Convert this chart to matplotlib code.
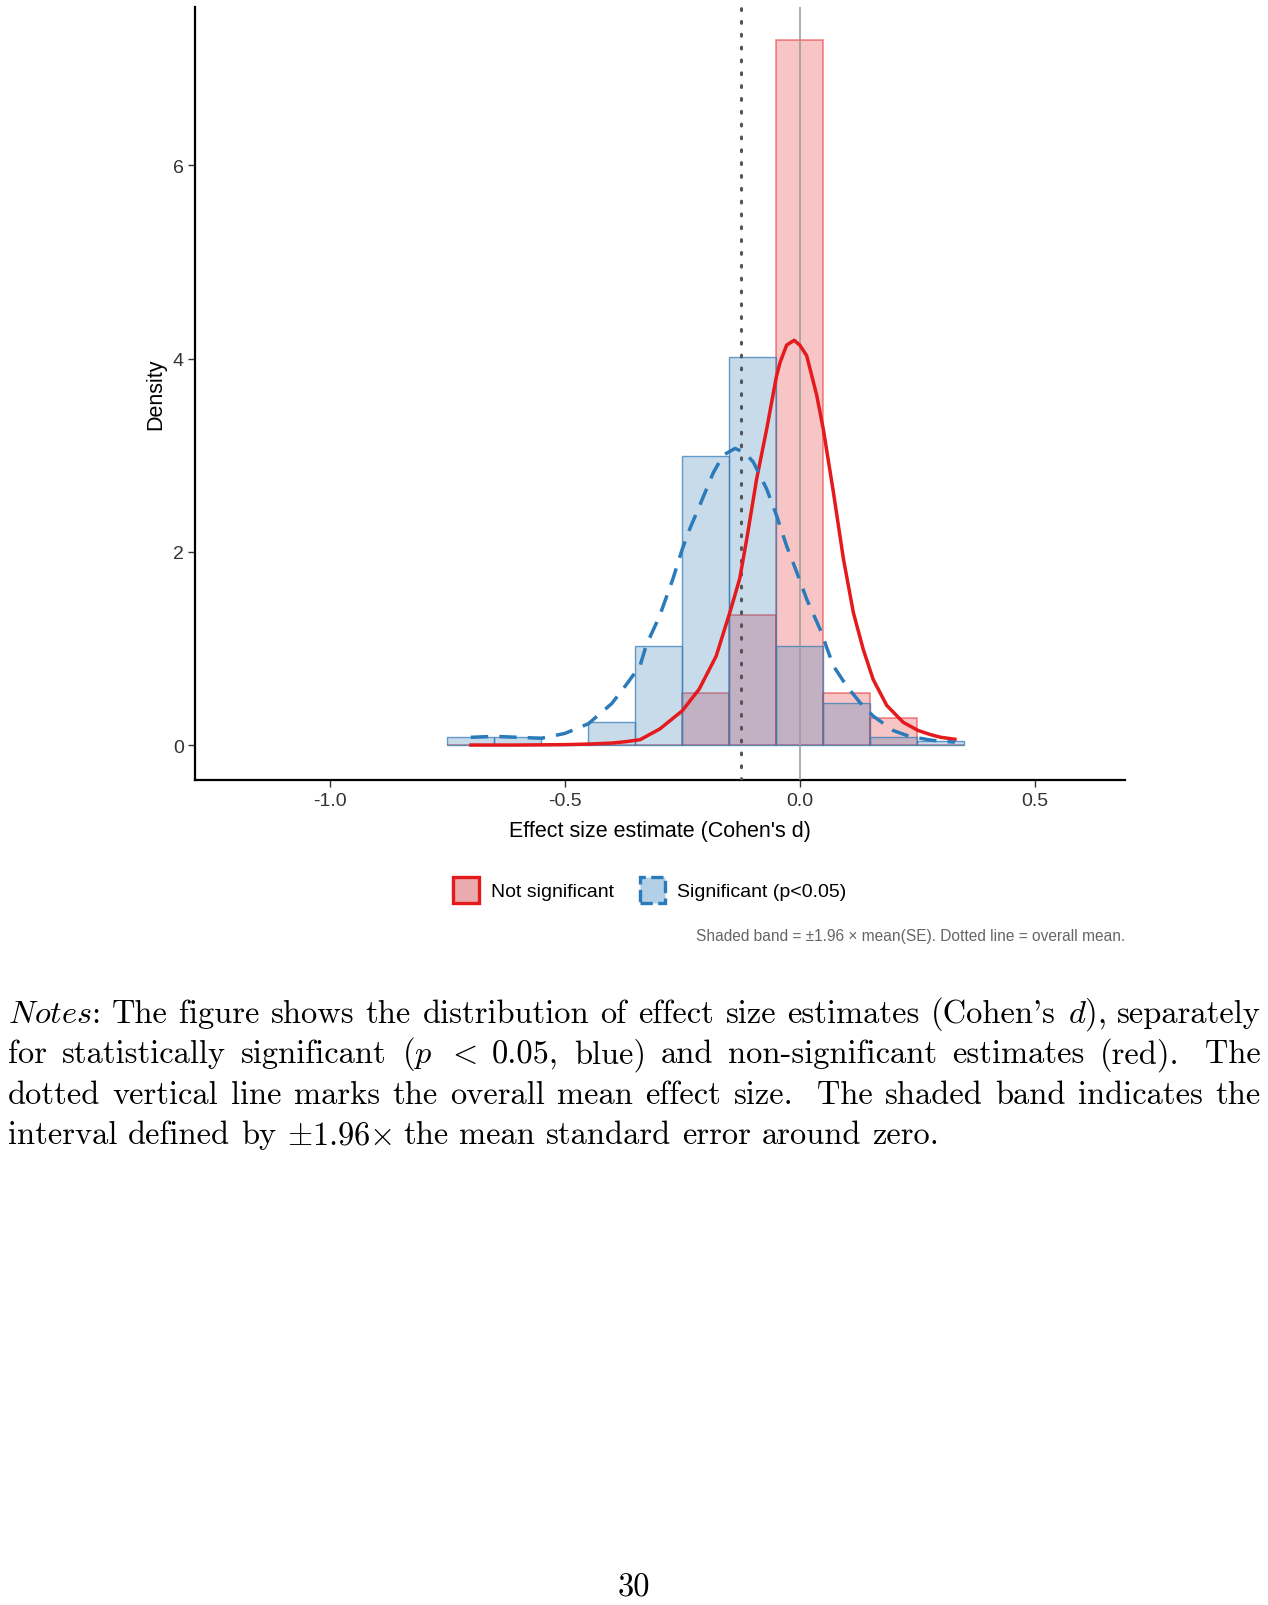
import numpy as np
import matplotlib.pyplot as plt
from matplotlib.patches import Patch

plt.rcParams['mathtext.fontset'] = 'cm'
plt.rcParams['axes.unicode_minus'] = False

# -----------------------
#      Data
# -----------------------
bin_edges = [-0.75, -0.65, -0.55, -0.45, -0.35, -0.25, -0.15, -0.05, 0.05, 0.15, 0.25, 0.35]
sig_density = [0.08, 0.08, 0.0, 0.24, 1.03, 2.99, 4.02, 1.03, 0.43, 0.085, 0.04]
nonsig_density = [0.0, 0.0, 0.0, 0.0, 0.0, 0.54, 1.35, 7.30, 0.54, 0.275, 0.0]

# kernel density curves, sampled by eye
nonsig_kde_x = [-0.70, -0.60, -0.50, -0.45, -0.40, -0.37, -0.34, -0.298, -0.25, -0.214, -0.178,
                -0.149, -0.128, -0.113, -0.092, -0.0705, -0.05, -0.042, -0.028, -0.012,
                0.0, 0.0147, 0.036, 0.050, 0.0714, 0.0927, 0.114, 0.135, 0.156, 0.185,
                0.220, 0.252, 0.28, 0.30, 0.33]
nonsig_kde_y = [0.0, 0.0, 0.004, 0.01, 0.02, 0.035, 0.055, 0.166, 0.355, 0.58, 0.92,
                1.37, 1.72, 2.13, 2.75, 3.27, 3.81, 3.96, 4.14, 4.19,
                4.14, 4.03, 3.62, 3.27, 2.62, 1.93, 1.37, 0.99, 0.68, 0.41,
                0.235, 0.15, 0.105, 0.08, 0.06]

sig_kde_x = [-0.70, -0.65, -0.60, -0.55, -0.50, -0.45, -0.40, -0.37, -0.34, -0.327, -0.298,
             -0.270, -0.25, -0.234, -0.213, -0.184, -0.163, -0.138, -0.118, -0.099, -0.0705,
             -0.049, -0.028, -0.0066, 0.0147, 0.043, 0.0714, 0.0998, 0.128, 0.156, 0.199,
             0.227, 0.25, 0.28, 0.30, 0.33]
sig_kde_y = [0.08, 0.09, 0.08, 0.07, 0.12, 0.22, 0.43, 0.62, 0.82, 1.03, 1.34,
             1.72, 2.03, 2.24, 2.48, 2.82, 3.00, 3.07, 3.03, 2.93, 2.65,
             2.37, 2.06, 1.79, 1.51, 1.20, 0.82, 0.61, 0.44, 0.30, 0.15,
             0.10, 0.075, 0.05, 0.04, 0.03]

overall_mean = -0.126

x_ticks = [-1.0, -0.5, 0.0, 0.5]
x_tick_labels = ["-1.0", "-0.5", "0.0", "0.5"]
y_ticks = [0, 2, 4, 6]

notes_lines = [
    [r"$\mathit{Notes}$:", "The", "figure", "shows", "the", "distribution", "of", "effect", "size",
     "estimates", "(Cohen's", r"$d$),", "separately"],
    ["for", "statistically", "significant", r"($p$", r"$<$", "0.05,", "blue)", "and",
     "non-significant", "estimates", "(red).", " The"],
    ["dotted", "vertical", "line", "marks", "the", "overall", "mean", "effect", "size.", " The",
     "shaded", "band", "indicates", "the"],
    ["interval", "defined", "by", r"$\pm$1.96$\times$", "the", "mean", "standard", "error",
     "around", "zero."],
]

# -----------------------
#      Figure
# -----------------------
W, H = 1268, 1606
fig = plt.figure(figsize=(W / 100, H / 100), dpi=100)
ax = fig.add_axes([195 / W, 1 - 781 / H, (1125 - 195) / W, (781 - 8) / H])

red = '#E41A1C'
blue = '#2B7BBA'
lefts = np.array(bin_edges[:-1])
widths = np.diff(bin_edges)

ax.bar(lefts, nonsig_density, width=widths, align='edge',
       facecolor=(0.894, 0.102, 0.110, 0.25), edgecolor=(0.894, 0.102, 0.110, 0.5), linewidth=1.2)
ax.bar(lefts, sig_density, width=widths, align='edge',
       facecolor=(0.216, 0.494, 0.722, 0.28), edgecolor=(0.216, 0.494, 0.722, 0.75), linewidth=1.0)

ax.axvline(0, color='#999999', lw=1.1, zorder=3)
ax.axvline(overall_mean, color='#555555', lw=2.2, linestyle=(0, (0.6, 3.6)),
           dash_capstyle='round', zorder=3)

ax.plot(nonsig_kde_x, nonsig_kde_y, color=red, lw=2.5, zorder=4, solid_joinstyle='round')
ax.plot(sig_kde_x, sig_kde_y, color=blue, lw=2.5, linestyle=(0, (5, 3.2)), zorder=4)

ax.set_xlim(-1.287, 0.692)
ax.set_ylim(-0.362, 7.64)
ax.set_xticks(x_ticks)
ax.set_xticklabels(x_tick_labels)
ax.set_yticks(y_ticks)

for s in ['top', 'right']:
    ax.spines[s].set_visible(False)
for s in ['left', 'bottom']:
    ax.spines[s].set_linewidth(1.6)
    ax.spines[s].set_color('black')
ax.tick_params(axis='both', length=5, width=1.0, color='#333333',
               labelsize=14, labelcolor='#333333', labelfontfamily='Liberation Sans')
ax.tick_params(axis='x', pad=4)
ax.tick_params(axis='y', pad=3)

ax.set_xlabel("Effect size estimate (Cohen's d)", fontsize=15.5, family='Liberation Sans',
              color='black', labelpad=7.5)
ax.set_ylabel("Density", fontsize=15.5, family='Liberation Sans', color='black', labelpad=5)

handles = [
    Patch(facecolor='#EBAAAD', edgecolor=red, linewidth=2.4, label='Not significant'),
    Patch(facecolor='#B3D0E7', edgecolor=blue, linewidth=2.4, linestyle='--',
          label='Significant (p<0.05)'),
]
fig.legend(handles=handles, loc='center', bbox_to_anchor=(650 / W, 1 - 891 / H), ncol=2,
           frameon=False, prop={'family': 'Liberation Sans', 'size': 14},
           handlelength=1.3, handleheight=1.62, handletextpad=0.65, columnspacing=1.3)

fig.text(1125 / W, 1 - 937 / H, "Shaded band = \u00b11.96 \u00d7 mean(SE). Dotted line = overall mean.",
         ha='right', va='center', fontsize=11.2, family='Liberation Sans', color='#666666')

# -----------------------
#      Notes, justified like the LaTeX page
# -----------------------
fs = 23.4
renderer = fig.canvas.get_renderer()
left_px, right_px = 8, 1261
baselines = [1023, 1063.5, 1104, 1144.5]
space_px = fs * 100 / 72 * 0.333

for i, words in enumerate(notes_lines):
    objs = [fig.text(0, 1 - baselines[i] / H, w, fontsize=fs, family='cmr10', va='baseline')
            for w in words]
    wid = [o.get_window_extent(renderer).width for o in objs]
    if i < len(notes_lines) - 1:
        gap = (right_px - left_px - sum(wid)) / (len(words) - 1)
    else:
        gap = space_px
    x = left_px
    for o, w in zip(objs, wid):
        o.set_x(x / W)
        x += w + gap

fig.text(634 / W, 1 - 1597 / H, "30", fontsize=fs, family='cmr10', ha='center', va='baseline')

fig.savefig('out.png', dpi=100)
